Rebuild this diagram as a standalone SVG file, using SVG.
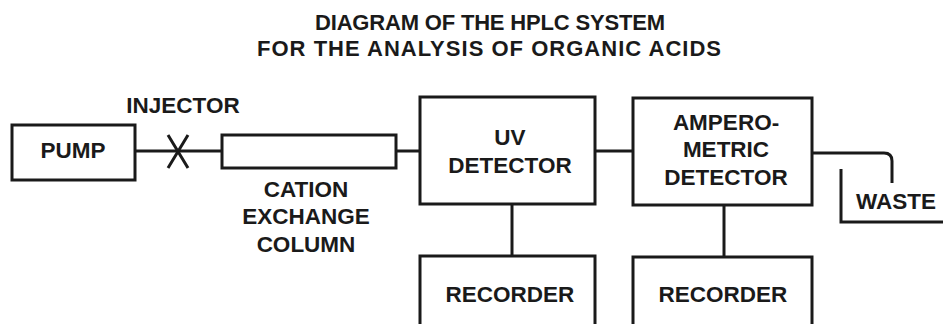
<svg xmlns="http://www.w3.org/2000/svg" width="943" height="324" viewBox="0 0 943 324">
<style>
.box{fill:none;stroke:#1a1a1a;stroke-width:3}
.ln{fill:none;stroke:#1a1a1a;stroke-width:3}
text{font-family:"Liberation Sans",Arial,sans-serif;font-weight:bold;fill:#1a1a1a;text-anchor:middle;font-size:22.5px}
.t{font-size:22px}
</style>
<rect width="943" height="324" fill="#fff"/>
<g id="title">
<text class="t" x="490" y="30" textLength="350" lengthAdjust="spacing">DIAGRAM OF THE HPLC SYSTEM</text>
<text class="t" x="489" y="56" textLength="464" lengthAdjust="spacing">FOR THE ANALYSIS OF ORGANIC ACIDS</text>
</g>
<g id="connectors">
<line class="ln" x1="135" y1="151" x2="222" y2="151"/>
<line class="ln" x1="396" y1="151" x2="420" y2="151"/>
<line class="ln" x1="595" y1="151" x2="633" y2="151"/>
<line class="ln" x1="512" y1="204" x2="512" y2="256"/>
<line class="ln" x1="724" y1="205" x2="724" y2="257"/>
<path class="ln" d="M812 153 H884 Q892 153 892 161 V183"/>
<path class="ln" d="M841 169 V222 H943"/>
</g>
<g id="pump">
<rect class="box" x="12" y="125" width="123" height="55"/>
<text x="73" y="158">PUMP</text>
</g>
<g id="injector">
<path class="ln" d="M168 135 L188 168 M188 135 L168 168"/>
<text x="183" y="113">INJECTOR</text>
</g>
<g id="column">
<rect class="box" x="222" y="135" width="174" height="33"/>
<text x="306" y="197">CATION</text>
<text x="306" y="224">EXCHANGE</text>
<text x="306" y="252">COLUMN</text>
</g>
<g id="uv">
<rect class="box" x="420" y="97" width="175" height="107"/>
<text x="510" y="145">UV</text>
<text x="510" y="173">DETECTOR</text>
</g>
<g id="ampero">
<rect class="box" x="633" y="98" width="179" height="107"/>
<text x="726" y="130">AMPERO-</text>
<text x="726" y="157">METRIC</text>
<text x="726" y="185">DETECTOR</text>
</g>
<g id="recorder1">
<rect class="box" x="420" y="256" width="175" height="80"/>
<text x="510" y="302">RECORDER</text>
</g>
<g id="recorder2">
<rect class="box" x="633" y="257" width="179" height="80"/>
<text x="723" y="302">RECORDER</text>
</g>
<g id="waste">
<text x="896" y="209">WASTE</text>
</g>
</svg>
